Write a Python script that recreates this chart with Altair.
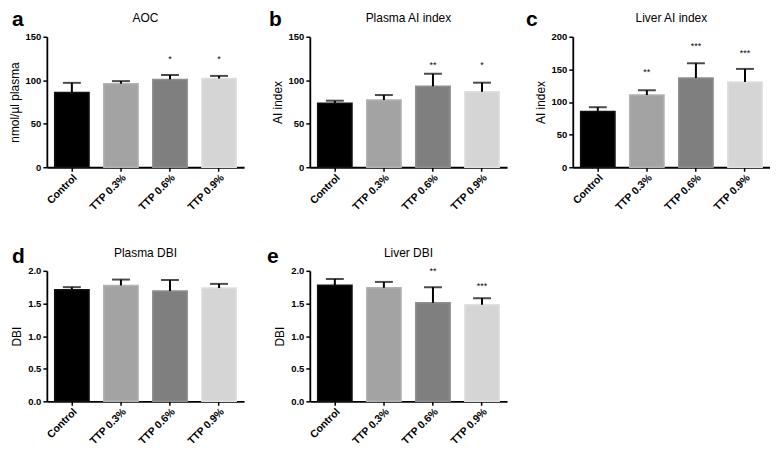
import altair as alt
import pandas as pd

groups = ["Control", "TTP 0.3%", "TTP 0.6%", "TTP 0.9%"]
bar_colors = ["#000000", "#a3a3a3", "#7f7f7f", "#d5d5d5"]
bar_strokes = ["#111111", "#b3b3b3", "#8e8e8e", "#e0e0e0"]

letters = ["a", "b", "c", "d", "e"]
titles = ["AOC", "Plasma AI index", "Liver AI index", "Plasma DBI", "Liver DBI"]
ytitles = ["nmol/µl plasma", "AI index", "AI index", "DBI", "DBI"]

aoc_mean = [86, 96, 101, 102]
aoc_upper = [97, 99, 106, 105]
aoc_sig = ["", "", "*", "*"]
aoc_sig_y = [0, 0, 124, 124]

pai_mean = [73.5, 77.3, 93, 86.7]
pai_upper = [76.5, 83, 107.4, 97.2]
pai_sig = ["", "", "**", "*"]
pai_sig_y = [0, 0, 118, 117]

lai_mean = [85.4, 110.6, 136.7, 130.7]
lai_upper = [92, 118, 159.3, 150.7]
lai_sig = ["", "**", "***", "***"]
lai_sig_y = [0, 146, 186, 175]

pdbi_mean = [1.71, 1.776, 1.69, 1.736]
pdbi_upper = [1.75, 1.866, 1.86, 1.80]
pdbi_sig = ["", "", "", ""]
pdbi_sig_y = [0, 0, 0, 0]

ldbi_mean = [1.78, 1.74, 1.51, 1.48]
ldbi_upper = [1.875, 1.83, 1.75, 1.58]
ldbi_sig = ["", "", "**", "***"]
ldbi_sig_y = [0, 0, 2.0, 1.77]

ymax = [150, 150, 200, 2.0, 2.0]
yticks = [[0, 50, 100, 150], [0, 50, 100, 150], [0, 50, 100, 150, 200],
          [0, 0.5, 1.0, 1.5, 2.0], [0, 0.5, 1.0, 1.5, 2.0]]
yfmts = ["d", "d", "d", ".1f", ".1f"]

W, H = 198, 131
FONT = "Liberation Sans"


def panel(i, means, uppers, sigs, sig_y, letter_dx, letter_dy, title_dy):
    df = pd.DataFrame({"group": groups, "mean": means, "upper": uppers,
                       "sig": sigs, "sig_y": sig_y})
    base = alt.Chart(df)
    x = alt.X("group:N", sort=groups,
              scale=alt.Scale(paddingInner=0.3, paddingOuter=0.16),
              axis=alt.Axis(title=None, labelAngle=-45, labelFontSize=10.5,
                            labelFontWeight="bold", labelPadding=1))
    yscale = alt.Scale(domain=[0, ymax[i]], nice=False)
    yaxis = alt.Axis(title=ytitles[i], values=yticks[i], format=yfmts[i],
                     tickCount=10, labelOverlap=False,
                     titleFontSize=12, titleFontWeight="normal",
                     titlePadding=4, labelFontSize=9.5, labelFontWeight="bold")
    bars = base.mark_bar(strokeWidth=1.5).encode(
        x=x,
        y=alt.Y("mean:Q", scale=yscale, axis=yaxis),
        color=alt.Color("group:N", scale=alt.Scale(domain=groups, range=bar_colors), legend=None),
        stroke=alt.Stroke("group:N", scale=alt.Scale(domain=groups, range=bar_strokes), legend=None),
    )
    err = base.mark_rule(color="black", strokeWidth=2).encode(
        x=x, y=alt.Y("mean:Q"), y2="upper:Q")
    cap = base.mark_tick(color="black", size=18, thickness=2).encode(
        x=x, y=alt.Y("upper:Q"))
    stars = base.transform_filter("datum.sig != ''").mark_text(
        fontSize=9, color="black", baseline="middle").encode(
        x=x, y=alt.Y("sig_y:Q"), text="sig:N")
    lab_df = pd.DataFrame({"t": [letters[i]], "title": [titles[i]]})
    lab = alt.Chart(lab_df).mark_text(
        fontSize=21, fontWeight="bold", align="left", baseline="top",
        color="black").encode(x=alt.value(letter_dx), y=alt.value(letter_dy),
                              text="t:N")
    ttl = alt.Chart(lab_df).mark_text(
        fontSize=12, align="center", baseline="middle",
        color="black").encode(x=alt.value(W / 2), y=alt.value(title_dy),
                              text="title:N")
    return alt.layer(bars, err, cap, stars, lab, ttl).properties(width=W, height=H)


pa = panel(0, aoc_mean, aoc_upper, aoc_sig, aoc_sig_y, -35, -28, -19)
pb = panel(1, pai_mean, pai_upper, pai_sig, pai_sig_y, -41, -28, -19)
pc = panel(2, lai_mean, lai_upper, lai_sig, lai_sig_y, -47, -28, -19)
pd_ = panel(3, pdbi_mean, pdbi_upper, pdbi_sig, pdbi_sig_y, -35, -25, -18)
pe = panel(4, ldbi_mean, ldbi_upper, ldbi_sig, ldbi_sig_y, -43, -25, -18)

chart = alt.concat(pa, pb, pc, pd_, pe, columns=3,
                   spacing={"row": 104, "column": 66}, bounds="flush").properties(
    padding=0, background="white"
).configure_view(stroke=None).configure_axis(
    grid=False, domainColor="black", domainWidth=1.8, tickColor="black",
    tickWidth=1.5, tickSize=4, labelColor="black", titleColor="black",
    labelFont=FONT, titleFont=FONT
).configure_title(font=FONT).configure_text(font=FONT)

chart.save("out.html", embed_options={"renderer": "svg", "actions": False})
